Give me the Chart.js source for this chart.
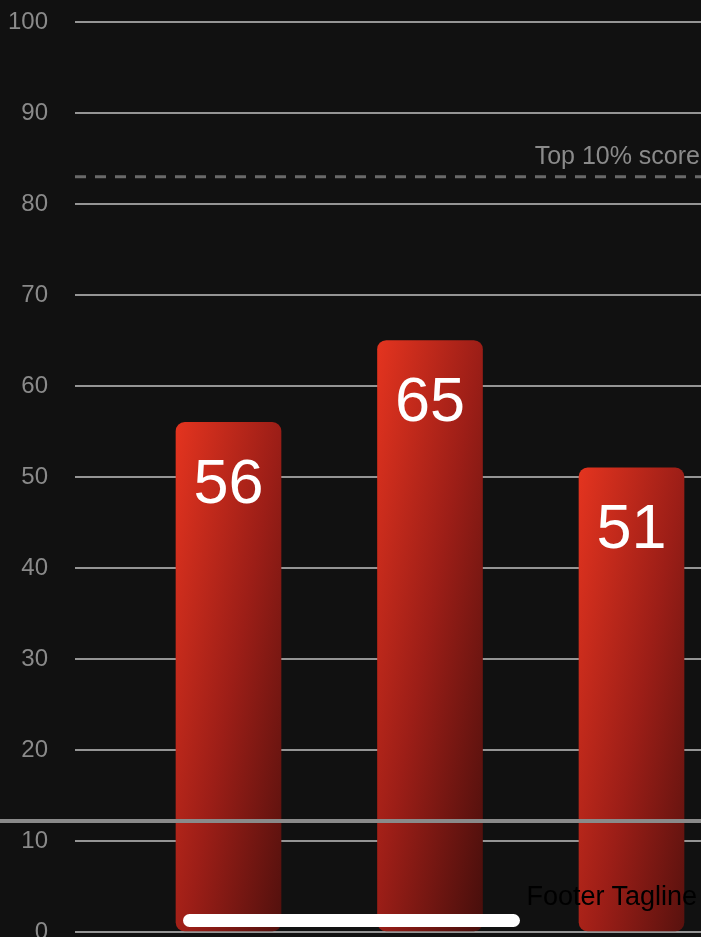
<!DOCTYPE html>
<html>
<head>
<meta charset="utf-8">
<script src="https://cdn.jsdelivr.net/npm/chart.js@4/dist/chart.umd.min.js"></script>
<style>
  html, body { margin: 0; padding: 0; background: #111111; overflow: hidden; }
  #wrap { position: relative; width: 701px; height: 937px; overflow: hidden; }
  canvas { display: block; }
  #sep { position: absolute; left: 0; top: 819px; width: 701px; height: 4px; background: #8a8a8a; }
  #pill { position: absolute; left: 183px; top: 914px; width: 337px; height: 13px; border-radius: 7px; background: #ffffff; }
  #footer { position: absolute; right: 4px; top: 880px; font: 27px "Liberation Sans", Arial, sans-serif; color: #000; line-height: 32px; }
</style>
</head>
<body>
<div id="wrap">
  <canvas id="c" width="701" height="937"></canvas>
  <div id="sep"></div>
  <div id="pill"></div>
  <div id="footer">Footer Tagline</div>
</div>
<script>
const categories = ['A', 'B', 'C'];
const scores = [56, 65, 51];
const yTicks = [0, 10, 20, 30, 40, 50, 60, 70, 80, 90, 100];
const benchmarkValue = 83;
const benchmarkLabel = 'Top 10% score';

const FONT = '"Liberation Sans", Arial, sans-serif';

function barGradient(ctx) {
  const chart = ctx.chart;
  const xs = chart.scales.x, ys = chart.scales.y;
  const i = ctx.dataIndex;
  if (!xs || !ys || typeof i !== 'number') return '#b0261b';
  const cx = xs.getPixelForValue(i + 1);
  const top = ys.getPixelForValue(scores[i]);
  if (!isFinite(cx) || !isFinite(top)) return '#b0261b';
  const left = cx - 52.5;
  const g = chart.ctx.createLinearGradient(left, top, left + 203, top + 38);
  g.addColorStop(0, '#e4341f');
  g.addColorStop(0.5, '#9c1e17');
  g.addColorStop(1, '#4a0f0c');
  return g;
}

const overlayPlugin = {
  id: 'overlay',
  beforeDatasetsDraw(chart) {
    const { ctx, chartArea, scales } = chart;
    const y = scales.y.getPixelForValue(benchmarkValue);
    ctx.save();
    ctx.strokeStyle = '#6a6a6a';
    ctx.lineWidth = 3;
    ctx.setLineDash([11, 9]);
    ctx.beginPath();
    ctx.moveTo(chartArea.left, y);
    ctx.lineTo(chartArea.right, y);
    ctx.stroke();
    ctx.setLineDash([]);
    ctx.fillStyle = '#8a8a8a';
    ctx.font = '25px ' + FONT;
    ctx.textAlign = 'right';
    ctx.textBaseline = 'alphabetic';
    ctx.fillText(benchmarkLabel, chartArea.right - 1, y - 13);
    ctx.restore();
  },
  afterDatasetsDraw(chart) {
    const { ctx } = chart;
    const meta = chart.getDatasetMeta(0);
    ctx.save();
    ctx.fillStyle = '#ffffff';
    ctx.font = '63px ' + FONT;
    ctx.textAlign = 'center';
    ctx.textBaseline = 'middle';
    meta.data.forEach((bar, i) => {
      ctx.fillText(String(scores[i]), bar.x, bar.y + 63);
    });
    ctx.restore();
  }
};

new Chart(document.getElementById('c'), {
  type: 'bar',
  data: {
    datasets: [{
      label: 'Score',
      data: scores.map((v, i) => ({ x: i + 1, y: v, cat: categories[i] })),
      backgroundColor: barGradient,
      borderWidth: 0,
      borderRadius: 9,
      borderSkipped: false,
      barThickness: 105
    }]
  },
  options: {
    responsive: false,
    animation: false,
    devicePixelRatio: 1,
    layout: { padding: { top: 22, bottom: 5, left: 0, right: 0 } },
    plugins: { legend: { display: false }, tooltip: { enabled: false } },
    scales: {
      x: {
        type: 'linear',
        display: false,
        offset: false,
        min: 0.2382,
        max: 3.3449
      },
      y: {
        min: 0,
        max: 100,
        afterBuildTicks(scale) { scale.ticks = yTicks.map(v => ({ value: v })); },
        afterFit(scale) { scale.width = 75; },
        border: { display: false },
        grid: { color: '#959595', lineWidth: 2, drawTicks: true, tickLength: 27, tickColor: 'rgba(0,0,0,0)' },
        ticks: {
          color: '#8a8a8a',
          padding: 0,
          font: { family: FONT, size: 24, lineHeight: 0.4 }
        }
      }
    }
  },
  plugins: [overlayPlugin]
});
</script>
</body>
</html>
